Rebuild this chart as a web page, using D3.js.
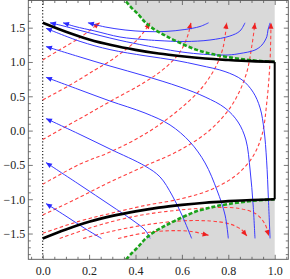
<!DOCTYPE html>
<html><head><meta charset="utf-8">
<script src="https://cdn.jsdelivr.net/npm/d3@7"></script>
<style>html,body{margin:0;padding:0;background:#fff;} svg{display:block;}</style>
</head><body>
<svg id="c" width="290" height="279"></svg>
<script>
// ---- tick labels ----
const xMajor = [0, 0.2, 0.4, 0.6, 0.8, 1.0];
const xMajorLabels = ["0.0", "0.2", "0.4", "0.6", "0.8", "1.0"];
const yMajor = [-1.5, -1, -0.5, 0, 0.5, 1, 1.5];
const yMajorLabels = ["\u22121.5", "\u22121.0", "\u22120.5", "0.0", "0.5", "1.0", "1.5"];

// ---- boundaries ----
const blackTop = [[0,1.571],[0.1,1.44],[0.2,1.328],[0.3,1.243],[0.4,1.177],[0.5,1.123],[0.6,1.083],[0.7,1.051],[0.8,1.029],[0.9,1.011],[1,1.0]];
const blackBottom = [[0,-1.571],[0.1,-1.44],[0.2,-1.328],[0.3,-1.243],[0.4,-1.177],[0.5,-1.123],[0.6,-1.083],[0.7,-1.051],[0.8,-1.029],[0.9,-1.011],[1,-1.0]];
const blackRight = [[1,1],[1,-1]];
const greenTop = [[0.345,1.95],[0.355,1.90],[0.38,1.80],[0.41,1.70],[0.44,1.585],[0.47,1.50],[0.52,1.40],[0.578,1.30],[0.66,1.18],[0.73,1.115],[0.8,1.07],[0.9,1.025],[1,1.0]];
const greenBottom = [[0.345,-1.95],[0.355,-1.90],[0.38,-1.80],[0.41,-1.70],[0.44,-1.585],[0.47,-1.50],[0.52,-1.40],[0.578,-1.30],[0.66,-1.18],[0.73,-1.115],[0.8,-1.07],[0.9,-1.025],[1,-1.0]];

// ---- blue streamlines (start -> arrow end) ----
const blue1 = [[0.253,-1.571],[0.182,-1.426],[0.096,-1.237],[0.014,-1.062]];
const blue2 = [[0.463,-1.571],[0.441,-1.448],[0.398,-1.331],[0.29,-1.084],[0.161,-0.793],[0.014,-0.465]];
const blue3 = [[0.642,-1.571],[0.600,-1.230],[0.557,-0.938],[0.506,-0.676],[0.441,-0.516],[0.29,-0.268],[0.161,-0.057],[0.014,0.176]];
const blue4 = [[0.800,-1.571],[0.786,-1.230],[0.751,-0.866],[0.700,-0.472],[0.635,-0.166],[0.549,0.082],[0.441,0.256],[0.29,0.431],[0.161,0.592],[0.014,0.777]];
const blue5 = [[0.915,-1.571],[0.907,-1.084],[0.894,-0.574],[0.876,-0.137],[0.842,0.125],[0.786,0.329],[0.700,0.490],[0.592,0.635],[0.441,0.796],[0.29,0.941],[0.161,1.072],[0.014,1.225]];
const blue6 = [[0.980,-1.571],[0.973,-1.011],[0.965,-0.43],[0.954,0.01],[0.937,0.33],[0.907,0.56],[0.859,0.74],[0.786,0.86],[0.678,0.95],[0.57,1.025],[0.441,1.09],[0.29,1.18],[0.161,1.30],[0.014,1.491]];
const blueA = [[0.715,1.571],[0.678,1.517],[0.613,1.473],[0.527,1.444],[0.441,1.444],[0.355,1.466],[0.269,1.510],[0.195,1.571]];
const blueB = [[0.872,1.571],[0.850,1.451],[0.807,1.378],[0.721,1.320],[0.613,1.298],[0.497,1.312],[0.441,1.325],[0.333,1.364],[0.225,1.451],[0.139,1.517],[0.0875,1.571]];
const blueC = [[0.980,1.571],[0.971,1.466],[0.966,1.368],[0.945,1.247],[0.915,1.174],[0.850,1.123],[0.799,1.102],[0.678,1.116],[0.570,1.16],[0.497,1.205],[0.441,1.24],[0.333,1.315],[0.247,1.385],[0.161,1.46],[0.083,1.53],[0.031,1.571]];

// ---- red dashed streamlines (start -> arrow end) ----
const red1 = [[0,1.029],[0.075,1.182],[0.161,1.357],[0.245,1.571]];
const red2 = [[0,0.446],[0.118,0.664],[0.225,0.883],[0.29,1.014],[0.355,1.174],[0.411,1.335],[0.445,1.48],[0.463,1.571]];
const red3 = [[0,-0.130],[0.161,0.176],[0.29,0.424],[0.441,0.708],[0.527,0.912],[0.592,1.145],[0.626,1.393],[0.639,1.571]];
const red4 = [[0,-0.782],[0.161,-0.487],[0.29,-0.312],[0.441,-0.05],[0.57,0.256],[0.678,0.592],[0.743,0.912],[0.777,1.204],[0.793,1.571]];
const red5 = [[0,-1.230],[0.161,-0.968],[0.29,-0.749],[0.441,-0.516],[0.592,-0.283],[0.721,0.009],[0.816,0.373],[0.876,0.810],[0.902,1.247],[0.915,1.571]];
const red6 = [[0,-1.496],[0.161,-1.317],[0.29,-1.208],[0.441,-1.091],[0.592,-0.997],[0.721,-0.866],[0.829,-0.662],[0.902,-0.399],[0.945,-0.064],[0.967,0.446],[0.980,1.029],[0.984,1.571]];
const red7 = [[0.073,-1.572],[0.204,-1.419],[0.325,-1.303],[0.441,-1.222],[0.592,-1.157],[0.743,-1.121],[0.85,-1.136],[0.92,-1.215],[0.958,-1.361],[0.975,-1.536]];
const red8 = [[0.174,-1.572],[0.29,-1.473],[0.441,-1.375],[0.592,-1.317],[0.721,-1.317],[0.807,-1.361],[0.859,-1.448],[0.880,-1.536]];
const red9 = [[0.325,-1.572],[0.441,-1.49],[0.549,-1.458],[0.64,-1.47],[0.715,-1.525]];

const blueCurves = [blue1, blue2, blue3, blue4, blue5, blue6, blueA, blueB, blueC];
const redCurves = [red1, red2, red3, red4, red5, red6, red7, red8, red9];

// ---- layout ----
const L = 28.3, R = 288.3, T = 0.5, B = 259.3;
const x = d3.scaleLinear().domain([-0.0621, 1.0586]).range([L, R]);
const y = d3.scaleLinear().domain([-1.8753, 1.8957]).range([B, T]);

const svg = d3.select("#c");
svg.append("defs").append("clipPath").attr("id", "clip")
  .append("rect").attr("x", L).attr("y", T).attr("width", R - L).attr("height", B - T);
const g = svg.append("g").attr("clip-path", "url(#clip)");

const line = d3.line().x(d => x(d[0])).y(d => y(d[1])).curve(d3.curveCatmullRom.alpha(0.5));

// gray regions
const yTopDom = y.domain()[1] + 0.1, yBotDom = y.domain()[0] - 0.1;
g.append("path").datum(greenTop)
  .attr("d", d3.area().x(d => x(d[0])).y0(d => y(d[1])).y1(y(yTopDom)).curve(d3.curveCatmullRom.alpha(0.5)))
  .attr("fill", "#d9d9d9");
g.append("path").datum(greenBottom)
  .attr("d", d3.area().x(d => x(d[0])).y0(d => y(d[1])).y1(y(yBotDom)).curve(d3.curveCatmullRom.alpha(0.5)))
  .attr("fill", "#d9d9d9");

// dotted x=0 line
g.append("line").attr("x1", x(0)).attr("x2", x(0)).attr("y1", T).attr("y2", B)
  .attr("stroke", "#111").attr("stroke-width", 1.1).attr("stroke-dasharray", "1.2,2");

function arrowHead(pts, color, len, hw) {
  const n = pts.length;
  const p1 = [x(pts[n-1][0]), y(pts[n-1][1])];
  const p0 = [x(pts[n-2][0]), y(pts[n-2][1])];
  const a = Math.atan2(p1[1] - p0[1], p1[0] - p0[0]);
  const bx = p1[0] - len * Math.cos(a), by = p1[1] - len * Math.sin(a);
  const nx = -Math.sin(a), ny = Math.cos(a);
  g.append("path")
    .attr("d", `M${p1[0]},${p1[1]}L${bx + hw*nx},${by + hw*ny}L${bx - hw*nx},${by - hw*ny}Z`)
    .attr("fill", color);
}

// red dashed
redCurves.forEach(c => {
  g.append("path").datum(c).attr("d", line).attr("fill", "none")
    .attr("stroke", "#ff4040").attr("stroke-width", 1.1).attr("stroke-dasharray", "3.5,2.5");
  arrowHead(c, "#ee2020", 6, 2.6);
});
// blue
blueCurves.forEach(c => {
  g.append("path").datum(c).attr("d", line).attr("fill", "none")
    .attr("stroke", "#3a3aff").attr("stroke-width", 1);
  arrowHead(c, "#2a2aff", 6, 2.6);
});

// green dashed boundaries
[greenTop, greenBottom].forEach(c => {
  g.append("path").datum(c).attr("d", line).attr("fill", "none")
    .attr("stroke", "#1aa31a").attr("stroke-width", 2.6).attr("stroke-dasharray", "4,2");
});

// black boundaries
[blackTop, blackBottom].forEach(c => {
  g.append("path").datum(c).attr("d", line).attr("fill", "none")
    .attr("stroke", "#000").attr("stroke-width", 2.7);
});
g.append("path").datum(blackRight).attr("d", d3.line().x(d => x(d[0])).y(d => y(d[1])))
  .attr("fill", "none").attr("stroke", "#000").attr("stroke-width", 2);

// ---- frame & ticks ----
const frameColor = "#555";
const xMinor = x.ticks(22).filter(v => !xMajor.some(m => Math.abs(m - v) < 1e-9));
const yMinor = y.ticks(37).filter(v => !yMajor.some(m => Math.abs(m - v) < 1e-9));

function addAxis(axisFn, transform, ticks, size, labels) {
  const ax = axisFn.tickValues(ticks).tickSizeInner(-size).tickSizeOuter(0)
    .tickFormat(labels ? ((d, i) => labels[i]) : () => "");
  const gg = svg.append("g").attr("transform", transform).call(ax);
  gg.select(".domain").remove();
  gg.selectAll("line").attr("stroke", frameColor).attr("stroke-width", 0.8);
  gg.selectAll("text").attr("font-family", "'Liberation Serif','Times New Roman',serif")
    .attr("font-size", 12).attr("fill", "#222");
  return gg;
}
addAxis(d3.axisBottom(x), `translate(0,${B})`, xMajor, 4.5, xMajorLabels).selectAll("text").attr("dy", "0.95em").attr("y", 4);
addAxis(d3.axisBottom(x), `translate(0,${B})`, xMinor, 2.5, null);
addAxis(d3.axisTop(x), `translate(0,${T})`, xMajor, 4.5, null);
addAxis(d3.axisTop(x), `translate(0,${T})`, xMinor, 2.5, null);
addAxis(d3.axisLeft(y), `translate(${L},0)`, yMajor, 4.5, yMajorLabels).selectAll("text").attr("x", -3);
addAxis(d3.axisLeft(y), `translate(${L},0)`, yMinor, 2.5, null);
addAxis(d3.axisRight(y), `translate(${R},0)`, yMajor, 4.5, null);
addAxis(d3.axisRight(y), `translate(${R},0)`, yMinor, 2.5, null);

svg.append("rect").attr("x", L).attr("y", T).attr("width", R - L).attr("height", B - T)
  .attr("fill", "none").attr("stroke", frameColor).attr("stroke-width", 0.9);
</script>
</body></html>
